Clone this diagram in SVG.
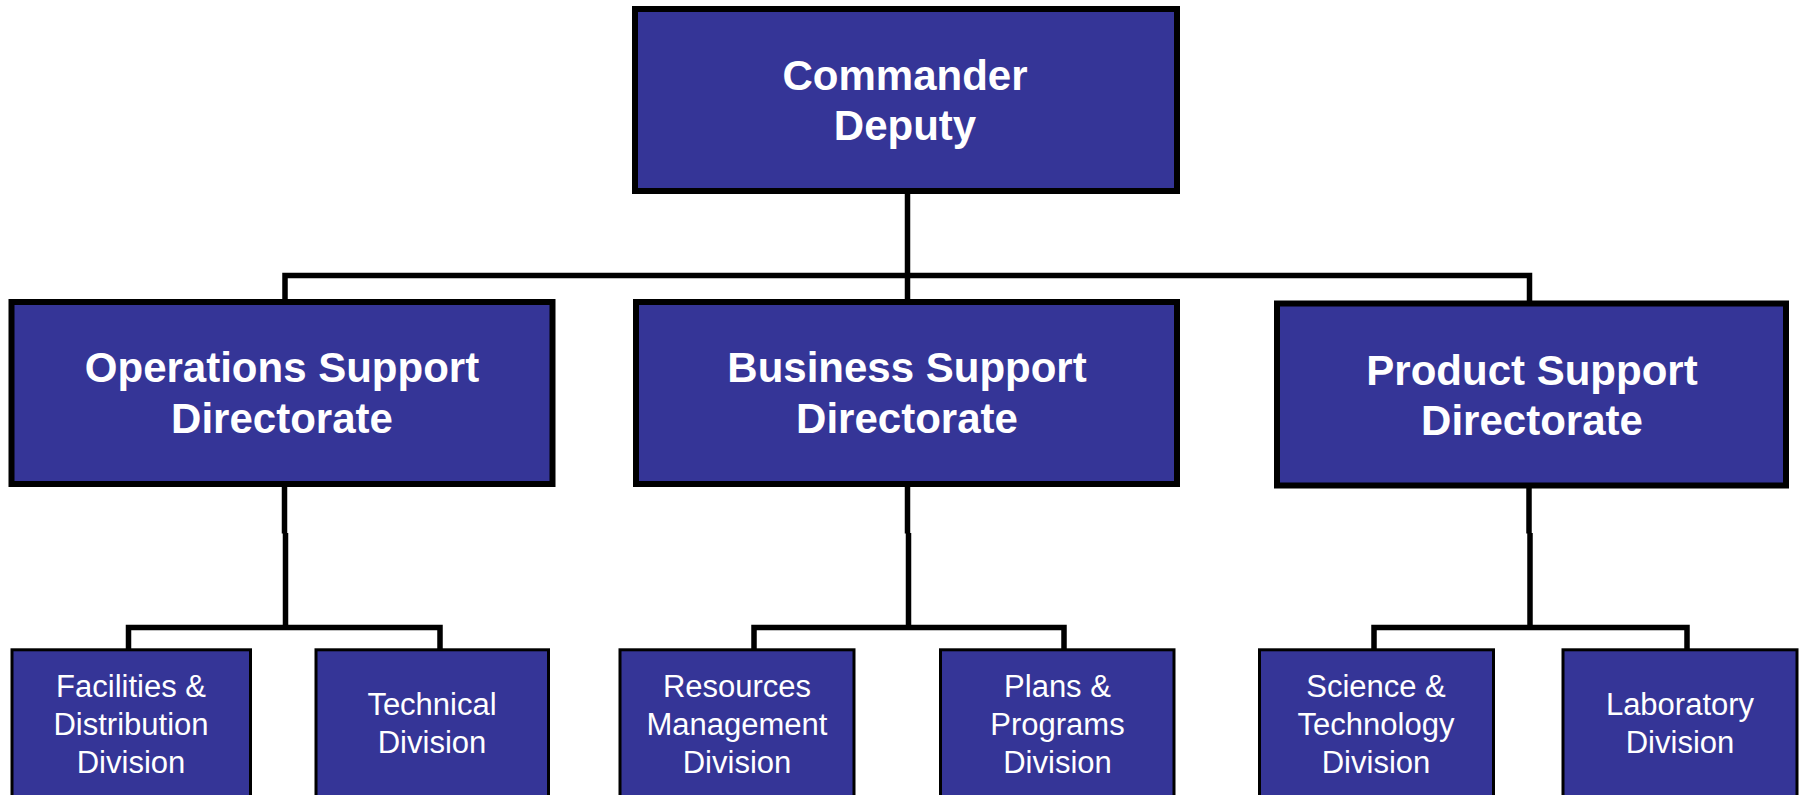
<svg xmlns="http://www.w3.org/2000/svg" width="1802" height="795" viewBox="0 0 1802 795">
<style>
.box{fill:#353597;stroke:#000;stroke-width:6}
.sbox{fill:#353597;stroke:#000;stroke-width:3}
.big{font-family:"Liberation Sans",Arial,sans-serif;font-weight:bold;font-size:42px;fill:#fff;text-anchor:middle}
.small{font-family:"Liberation Sans",Arial,sans-serif;font-size:31px;fill:#fff;text-anchor:middle}
.conn{fill:none;stroke:#000;stroke-width:5.5;stroke-linejoin:miter;stroke-linecap:butt}
</style>
<rect width="1802" height="795" fill="#fff"/>
<g id="connectors">
<path class="conn" d="M907.5,194 V299"/>
<path class="conn" d="M285,300 V275.5 H1529.5 V301"/>
<path class="conn" d="M284.5,487 V533.5"/>
<path class="conn" d="M285.5,533 V627.5"/>
<path class="conn" d="M128.5,649 V627.5 H440 V649"/>
<path class="conn" d="M907.5,487 V533.5"/>
<path class="conn" d="M908.5,533 V627.5"/>
<path class="conn" d="M754,649 V627.5 H1064 V649"/>
<path class="conn" d="M1529,488 V533.5"/>
<path class="conn" d="M1530,533 V627.5"/>
<path class="conn" d="M1374,649 V627.5 H1687 V649"/>
</g>
<g id="commander">
<rect class="box" x="635" y="9" width="542" height="182"/>
<text class="big" x="905" y="89.5">Commander</text>
<text class="big" x="905" y="139.5">Deputy</text>
</g>
<g id="operations">
<rect class="box" x="11.5" y="302" width="541" height="182"/>
<text class="big" x="282" y="381.7">Operations Support</text>
<text class="big" x="282" y="433.3">Directorate</text>
</g>
<g id="business">
<rect class="box" x="636" y="302" width="541" height="182"/>
<text class="big" x="907" y="381.7">Business Support</text>
<text class="big" x="907" y="433.3">Directorate</text>
</g>
<g id="product">
<rect class="box" x="1277" y="303.5" width="509" height="182"/>
<text class="big" x="1532" y="385">Product Support</text>
<text class="big" x="1532" y="435">Directorate</text>
</g>
<g id="facilities">
<rect class="sbox" x="12" y="649.8" width="238.5" height="160"/>
<text class="small" x="131" y="696.7">Facilities &amp;</text>
<text class="small" x="131" y="734.8">Distribution</text>
<text class="small" x="131" y="772.5">Division</text>
</g>
<g id="technical">
<rect class="sbox" x="316" y="649.8" width="232.5" height="160"/>
<text class="small" x="432" y="715">Technical</text>
<text class="small" x="432" y="753.3">Division</text>
</g>
<g id="resources">
<rect class="sbox" x="620" y="649.8" width="234" height="160"/>
<text class="small" x="737" y="696.7">Resources</text>
<text class="small" x="737" y="734.8">Management</text>
<text class="small" x="737" y="772.5">Division</text>
</g>
<g id="plans">
<rect class="sbox" x="940.5" y="649.8" width="233.5" height="160"/>
<text class="small" x="1057.5" y="696.7">Plans &amp;</text>
<text class="small" x="1057.5" y="734.8">Programs</text>
<text class="small" x="1057.5" y="772.5">Division</text>
</g>
<g id="science">
<rect class="sbox" x="1259.5" y="649.8" width="234" height="160"/>
<text class="small" x="1376" y="696.7">Science &amp;</text>
<text class="small" x="1376" y="734.8">Technology</text>
<text class="small" x="1376" y="772.5">Division</text>
</g>
<g id="laboratory">
<rect class="sbox" x="1563" y="649.8" width="234" height="160"/>
<text class="small" x="1680" y="715">Laboratory</text>
<text class="small" x="1680" y="753.3">Division</text>
</g>
</svg>
